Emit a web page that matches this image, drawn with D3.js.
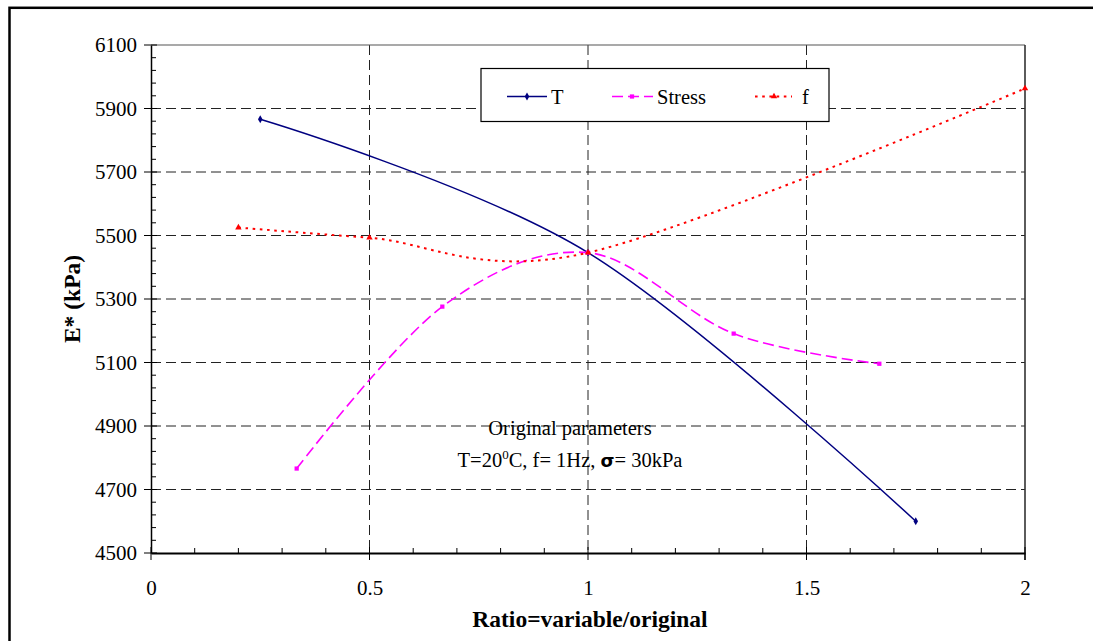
<!DOCTYPE html>
<html>
<head>
<meta charset="utf-8">
<script src="https://cdn.jsdelivr.net/npm/d3@7/dist/d3.min.js"></script>
<style>
  html, body { margin: 0; padding: 0; background: #fff; }
  svg { display: block; font-family: "Liberation Serif", "Times New Roman", serif; }
</style>
</head>
<body>
<svg id="chart" width="1093" height="641"></svg>
<script>
// ---- data ----
const seriesNames = ["T", "Stress", "f"];
const tRatio = [0.25, 1, 1.75];
const tValues = [5866, 5446, 4600];
const stressRatio = [1/3, 2/3, 1, 4/3, 5/3];
const stressValues = [4766, 5276, 5446, 5191, 5096];
const fRatio = [0.2, 0.5, 1, 2];
const fValues = [5525, 5493, 5446, 5963];
const xTicks = [0, 0.5, 1, 1.5, 2];
const xTickLabels = ["0", "0.5", "1", "1.5", "2"];
const yTicks = [4500, 4700, 4900, 5100, 5300, 5500, 5700, 5900, 6100];
const xTitle = "Ratio=variable/original";
const yTitle = "E* (kPa)";
const noteLine1 = "Original parameters";

// ---- layout ----
const svg = d3.select("#chart");
const x = d3.scaleLinear().domain([0, 2]).range([151, 1025]);
const y = d3.scaleLinear().domain([4500, 6100]).range([553, 45]);

// outer frame
svg.append("rect").attr("x", 9.5).attr("y", 7.8).attr("width", 1100).attr("height", 700)
  .attr("fill", "none").attr("stroke", "#000").attr("stroke-width", 2.5);

// gridlines
const grid = svg.append("g");
grid.selectAll("line.h").data(yTicks.filter(v => v > 4500 && v < 6100)).join("line")
  .attr("x1", x(0)).attr("x2", x(2))
  .attr("y1", d => y(d)).attr("y2", d => y(d))
  .attr("stroke", "#222").attr("stroke-width", 1).attr("stroke-dasharray", "10,5");
grid.selectAll("line.v").data([0.5, 1, 1.5]).join("line")
  .attr("x1", d => x(d)).attr("x2", d => x(d))
  .attr("y1", y(6100)).attr("y2", y(4500))
  .attr("stroke", "#222").attr("stroke-width", 1).attr("stroke-dasharray", "10,5");

// plot frame top/right
svg.append("line").attr("x1", x(0)).attr("x2", x(2)).attr("y1", y(6100)).attr("y2", y(6100))
  .attr("stroke", "#555").attr("stroke-width", 1.2);
svg.append("line").attr("x1", x(2)).attr("x2", x(2)).attr("y1", y(6100)).attr("y2", y(4500) + 7)
  .attr("stroke", "#333").attr("stroke-width", 1.6);

// axes
const yAxis = d3.axisLeft(y).tickValues(yTicks).tickFormat(d3.format("d")).tickSize(0).tickPadding(14);
const gy = svg.append("g").attr("transform", `translate(${x(0)},0)`).call(yAxis)
  .attr("font-family", "Liberation Serif").attr("font-size", 21);
gy.select(".domain").attr("stroke", "#000").attr("stroke-width", 1.5);
gy.selectAll("text").attr("fill", "#000");
// y major ticks (crossing) & minor ticks (inside)
const yMinor = d3.range(4540, 6100, 40).filter(v => (v - 4500) % 200 !== 0);
gy.selectAll("line.maj").data(yTicks).join("line").attr("class", "maj")
  .attr("x1", -7).attr("x2", 6).attr("y1", d => y(d)).attr("y2", d => y(d))
  .attr("stroke", "#000").attr("stroke-width", 1);
gy.selectAll("line.min").data(yMinor).join("line").attr("class", "min")
  .attr("x1", 0).attr("x2", 5).attr("y1", d => y(d)).attr("y2", d => y(d))
  .attr("stroke", "#000").attr("stroke-width", 1);

const xAxis = d3.axisBottom(x).tickValues(xTicks).tickFormat((d, i) => xTickLabels[i])
  .tickSize(0).tickPadding(27);
const gx = svg.append("g").attr("transform", `translate(0,${y(4500)})`).call(xAxis)
  .attr("font-family", "Liberation Serif").attr("font-size", 21);
gx.select(".domain").attr("stroke", "#000").attr("stroke-width", 2);
gx.selectAll("text").attr("fill", "#000");
const xMinor = d3.range(1, 20).map(i => i / 10).filter(v => Math.abs(v * 2 - Math.round(v * 2)) > 1e-6);
gx.selectAll("line.maj").data(xTicks).join("line").attr("class", "maj")
  .attr("x1", d => x(d)).attr("x2", d => x(d)).attr("y1", -6).attr("y2", 7)
  .attr("stroke", "#000").attr("stroke-width", 1);
gx.selectAll("line.min").data(xMinor).join("line").attr("class", "min")
  .attr("x1", d => x(d)).attr("x2", d => x(d)).attr("y1", 0).attr("y2", -5)
  .attr("stroke", "#000").attr("stroke-width", 1);

// axis titles
svg.append("text").attr("x", 590).attr("y", 627).attr("text-anchor", "middle")
  .attr("font-size", 23.5).attr("font-weight", "bold").text(xTitle);
svg.append("text").attr("transform", "translate(80,299) rotate(-90)").attr("text-anchor", "middle")
  .attr("font-size", 23.5).attr("font-weight", "bold").text(yTitle);

// series
const line = d3.line().x(d => x(d[0])).y(d => y(d[1])).curve(d3.curveCardinal.tension(0));
const series = [
  { name: seriesNames[0], xs: tRatio, ys: tValues, color: "#000080", dash: null, width: 1.5, marker: "diamond" },
  { name: seriesNames[1], xs: stressRatio, ys: stressValues, color: "#FF00FF", dash: "11,5", width: 1.6, marker: "square" },
  { name: seriesNames[2], xs: fRatio, ys: fValues, color: "#FF0000", dash: "2.6,4.6", width: 2, marker: "triangle" }
];
const symbolType = { diamond: d3.symbolDiamond, square: d3.symbolSquare, triangle: d3.symbolTriangle };

series.forEach(s => {
  const pts = s.xs.map((v, i) => [v, s.ys[i]]);
  svg.append("path").datum(pts).attr("d", line).attr("fill", "none")
    .attr("stroke", s.color).attr("stroke-width", s.width)
    .attr("stroke-dasharray", s.dash);
  svg.selectAll(null).data(pts).join("path")
    .attr("transform", d => `translate(${x(d[0])},${y(d[1])})`)
    .attr("d", d3.symbol().type(symbolType[s.marker]).size(18))
    .attr("fill", s.color);
});

// legend
const lg = svg.append("g");
lg.append("rect").attr("x", 481).attr("y", 68.5).attr("width", 348).attr("height", 53)
  .attr("fill", "#fff").attr("stroke", "#000").attr("stroke-width", 1.2);
const legendItems = [
  { x1: 507, x2: 547, mx: 527, tx: 551 },
  { x1: 612, x2: 653, mx: 632, tx: 657 },
  { x1: 755, x2: 792, mx: 774, tx: 802 }
];
series.forEach((s, i) => {
  const it = legendItems[i];
  lg.append("line").attr("x1", it.x1).attr("x2", it.x2).attr("y1", 96.5).attr("y2", 96.5)
    .attr("stroke", s.color).attr("stroke-width", s.width).attr("stroke-dasharray", s.dash);
  lg.append("path").attr("transform", `translate(${it.mx},96.5)`)
    .attr("d", d3.symbol().type(symbolType[s.marker]).size(18)).attr("fill", s.color);
  lg.append("text").attr("x", it.tx).attr("y", 103.5).attr("font-size", 20.5).text(s.name);
});

// annotation
svg.append("text").attr("x", 570).attr("y", 435).attr("text-anchor", "middle")
  .attr("font-size", 20.5).text(noteLine1);
const note2 = svg.append("text").attr("x", 570).attr("y", 467).attr("text-anchor", "middle")
  .attr("font-size", 20.5);
note2.append("tspan").text("T=20");
note2.append("tspan").attr("font-size", 13).attr("dy", -8).text("0");
note2.append("tspan").attr("dy", 8).text("C, f= 1Hz, ");
note2.append("tspan").attr("font-weight", "bold").attr("font-family", "DejaVu Sans").attr("font-size", 18).text("σ");
note2.append("tspan").text("= 30kPa");
</script>
</body>
</html>
